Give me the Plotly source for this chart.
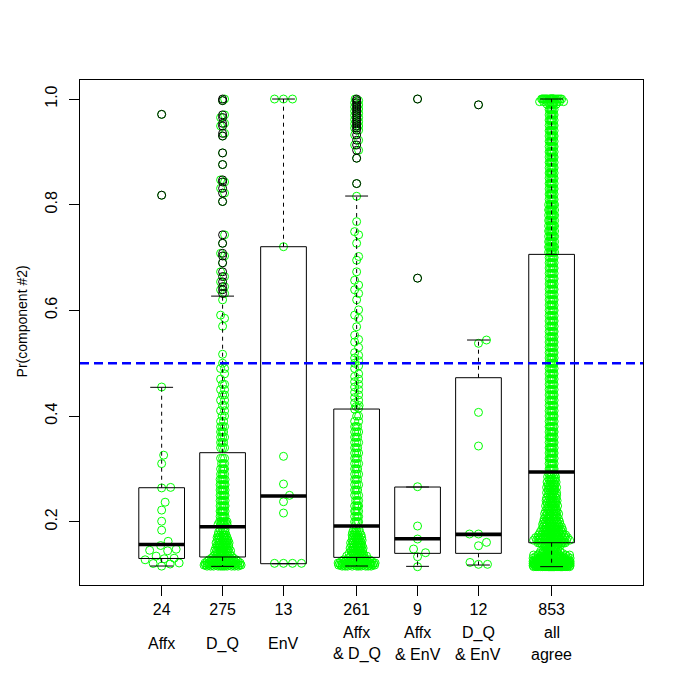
import numpy as np
import plotly.graph_objects as go

# ---------------- data ----------------
COUNT_LABELS = ["24", "275", "13", "261", "9", "12", "853"]
NAME_LINES = [["Affx"], ["D_Q"], ["EnV"], ["Affx", "& D_Q"],
              ["Affx", "& EnV"], ["D_Q", "& EnV"], ["all", "agree"]]
POSITIONS = [1.0, 2.0, 3.0, 4.2, 5.2, 6.2, 7.4]

BOX_Q1 = [0.1305, 0.1333, 0.1206, 0.1326, 0.1402, 0.1402, 0.1603]
BOX_MED = [0.1570, 0.1906, 0.2487, 0.1919, 0.1679, 0.1762, 0.2941]
BOX_Q3 = [0.2644, 0.3307, 0.7205, 0.4133, 0.2657, 0.4726, 0.7060]
WHISK_LO = [0.1162, 0.1156, 0.1206, 0.1162, 0.1156, 0.1181, 0.1150]
WHISK_HI = [0.4544, 0.6270, 1.0000, 0.8164, 0.2657, 0.5439, 1.0000]

Y_TICKS = [0.2, 0.4, 0.6, 0.8, 1.0]
Y_TICK_LABELS = ["0.2", "0.4", "0.6", "0.8", "1.0"]
THRESHOLD = 0.5
Y_TITLE = "Pr(component #2)"

# outliers (black circles)
OUT_AFFX = [0.971, 0.818]
OUT_DQ = [1.0, 0.997, 0.970, 0.965, 0.954, 0.949, 0.935, 0.930, 0.898, 0.876,
          0.847, 0.843, 0.831, 0.822, 0.806, 0.743, 0.727, 0.708, 0.703, 0.690,
          0.673, 0.664, 0.654, 0.645, 0.639, 0.632]
OUT_ENV = []
OUT_AFFX_DQ = [1.0, 0.997, 0.993, 0.989, 0.985, 0.981, 0.977, 0.973, 0.969, 0.965,
               0.961, 0.957, 0.953, 0.949, 0.945, 0.941, 0.932, 0.922, 0.913, 0.903,
               0.888, 0.840]
OUT_AFFX_ENV = [1.0, 0.661]
OUT_DQ_ENV = [0.989]
OUT_ALL = []

# non-outlying points, small groups
PTS_AFFX = [0.455, 0.326, 0.310, 0.265, 0.264, 0.237, 0.222, 0.201, 0.184, 0.163,
            0.155, 0.148, 0.146, 0.145, 0.135, 0.131, 0.130, 0.128, 0.122, 0.121,
            0.120, 0.116]
PTS_ENV = [1.0, 1.0, 1.0, 0.7205, 0.3238, 0.2714, 0.250, 0.2379, 0.2165,
           0.1213, 0.1213, 0.1213, 0.1213]
PTS_AFFX_ENV = [0.2663, 0.1919, 0.1673, 0.1484, 0.1414, 0.1338, 0.1149]
PTS_DQ_ENV = [0.5439, 0.5377, 0.407, 0.3433, 0.1768, 0.1768, 0.161, 0.1546,
              0.123, 0.1194, 0.1194]

# non-outlying points, large groups: value levels and number of points at each
DQ_LEVELS = [0.116, 0.118, 0.120, 0.122, 0.125, 0.128, 0.131,
             0.135, 0.140, 0.145, 0.150, 0.155, 0.160, 0.165, 0.170, 0.175, 0.180, 0.185,
             0.195, 0.200, 0.210, 0.220, 0.230, 0.240, 0.250, 0.260, 0.270, 0.280, 0.290,
             0.300, 0.310, 0.320,
             0.340, 0.350, 0.360, 0.370, 0.380, 0.390, 0.400, 0.410, 0.420, 0.430, 0.440,
             0.450, 0.460, 0.470, 0.480, 0.490, 0.500, 0.517, 0.570, 0.585, 0.591, 0.620]
DQ_COUNTS = [11, 12, 12, 10, 9, 8, 8,
             8, 8, 8, 8, 7, 7, 6, 6, 5, 3, 3,
             7, 6, 6, 6, 5, 5, 5, 5, 5, 5, 4,
             4, 3, 3,
             3, 3, 3, 3, 3, 2, 2, 2, 2, 2, 2,
             2, 2, 1, 1, 2, 1, 1, 1, 1, 1, 1]

AFFX_DQ_LEVELS = [0.116, 0.118, 0.120, 0.122, 0.125, 0.128, 0.131,
                  0.135, 0.140, 0.145, 0.150, 0.155, 0.160, 0.165, 0.170, 0.175, 0.180, 0.185,
                  0.200, 0.210, 0.220, 0.230, 0.240, 0.250, 0.260, 0.270, 0.280, 0.290,
                  0.300, 0.310, 0.320, 0.330, 0.340, 0.350, 0.360, 0.370, 0.380, 0.390, 0.400,
                  0.413, 0.415, 0.418, 0.420, 0.425, 0.430, 0.435, 0.440, 0.445, 0.450,
                  0.455, 0.460, 0.465, 0.470, 0.475, 0.480, 0.490, 0.495, 0.500, 0.505,
                  0.510, 0.515, 0.520, 0.530, 0.540, 0.545, 0.553, 0.569, 0.585, 0.591,
                  0.601, 0.620, 0.632, 0.639, 0.648, 0.657, 0.673, 0.695, 0.702, 0.727,
                  0.743, 0.749, 0.768, 0.816]
AFFX_DQ_COUNTS = [10, 11, 11, 10, 9, 8, 6,
                  8, 8, 7, 7, 6, 6, 6, 5, 5, 4, 3,
                  4, 4, 4, 4, 3, 3, 3, 3, 3, 3,
                  3, 3, 3, 3, 3, 3, 3, 3, 3, 2, 2,
                  1, 1, 1, 1, 1, 1, 1, 1, 1, 1,
                  1, 1, 1, 1, 1, 1, 1, 1, 1, 1,
                  1, 1, 1, 1, 1, 1, 1, 1, 1, 1,
                  1, 1, 1, 1, 1, 1, 1, 1, 1, 1,
                  1, 1, 1, 1]

ALL_LEVELS = [0.115, 0.117, 0.119, 0.121, 0.123, 0.125, 0.128, 0.131, 0.134, 0.137,
              0.140, 0.144, 0.148, 0.152, 0.156,
              0.160, 0.165, 0.170, 0.175, 0.180, 0.185, 0.190, 0.195, 0.200, 0.205,
              0.210, 0.215, 0.220, 0.225, 0.230, 0.235, 0.240, 0.245, 0.250, 0.255,
              0.260, 0.265, 0.270, 0.275, 0.280, 0.285, 0.290,
              0.30, 0.31, 0.32, 0.33, 0.34, 0.35, 0.36, 0.37, 0.38, 0.39,
              0.40, 0.41, 0.42, 0.43, 0.44, 0.45, 0.46, 0.47, 0.48, 0.49,
              0.50, 0.51, 0.52, 0.53, 0.54, 0.55, 0.56, 0.57, 0.58, 0.59,
              0.60, 0.61, 0.62, 0.63, 0.64, 0.65, 0.66, 0.67, 0.68, 0.69, 0.70,
              0.71, 0.72, 0.73, 0.74, 0.75, 0.76, 0.77, 0.78, 0.79,
              0.80, 0.81, 0.82, 0.83, 0.84, 0.85, 0.86, 0.87, 0.88, 0.89,
              0.90, 0.91, 0.92, 0.93, 0.94, 0.95, 0.96, 0.97, 0.98, 0.99,
              0.995, 1.0]
ALL_COUNTS = [26, 26, 24, 22, 18, 16, 14, 13, 11, 10,
              9, 8, 6, 5, 5,
              18, 17, 16, 13, 12, 11, 10, 9, 8, 8,
              7, 7, 7, 6, 6, 6, 6, 5, 5, 5,
              5, 5, 5, 4, 4, 4, 4,
              6, 6, 6, 6, 6, 6, 6, 6, 5, 5,
              5, 5, 5, 5, 5, 5, 5, 5, 5, 5,
              5, 5, 5, 5, 5, 5, 5, 5, 5, 5,
              5, 5, 5, 5, 5, 5, 5, 5, 5, 5, 5,
              7, 7, 7, 7, 7, 7, 7, 7, 7,
              7, 6, 6, 6, 6, 6, 6, 6, 6, 6,
              6, 6, 6, 6, 6, 6, 6, 6, 6, 6,
              8, 22]

# ---------------- assemble groups ----------------
def expand(levels, counts):
    out = []
    for v, c in zip(levels, counts):
        out += [v] * c
    return out

OUTLIERS = [OUT_AFFX, OUT_DQ, OUT_ENV, OUT_AFFX_DQ, OUT_AFFX_ENV, OUT_DQ_ENV, OUT_ALL]
INLIERS = [PTS_AFFX, expand(DQ_LEVELS, DQ_COUNTS), PTS_ENV,
           expand(AFFX_DQ_LEVELS, AFFX_DQ_COUNTS), PTS_AFFX_ENV, PTS_DQ_ENV,
           expand(ALL_LEVELS, ALL_COUNTS)]

X_RANGE = [-0.34, 8.90]
Y_RANGE = [0.0803, 1.036]
PLOT_W, PLOT_H = 563, 505
XPX = PLOT_W / (X_RANGE[1] - X_RANGE[0])
YPX = PLOT_H / (Y_RANGE[1] - Y_RANGE[0])


def swarm(vals, dense, spacing=8.6):
    """Deterministic beeswarm layout (pixel space), with a corral for dense groups."""
    v = np.sort(np.asarray(vals, float))
    y = v * YPX
    n = len(v)
    if dense:
        win = np.array([(np.abs(y - yi) <= 4.0).sum() for yi in y]) / 8.0
        cap = np.clip(1.5 + 1.5 * win ** 1.3, 2.0, 18.5)
    else:
        cap = np.full(n, 18.0)
    xs = np.zeros(n)
    for i in range(n):
        m = np.abs(y[:i] - y[i]) < spacing
        if not m.any():
            continue
        nx = xs[:i][m]
        ny = y[:i][m]
        k = max(1, int(round(cap[i] * 2)))
        steps = np.arange(1, k + 1, dtype=float) * 0.5
        cands = np.concatenate([[0.0], np.column_stack([steps, -steps]).ravel()])
        d = np.sqrt((cands[:, None] - nx[None, :]) ** 2 +
                    (y[i] - ny[None, :]) ** 2).min(axis=1)
        ok = np.nonzero(d >= spacing)[0]
        xs[i] = cands[ok[0]] if ok.size else cands[np.argmax(d)]
    return v, xs / XPX


fig = go.Figure()

# green points (all observations)
gx, gy = [], []
for pos, inl, outl in zip(POSITIONS, INLIERS, OUTLIERS):
    allv = list(inl) + list(outl)
    v, off = swarm(allv, dense=len(allv) > 100)
    gx += list(pos + off)
    gy += list(v)
fig.add_trace(go.Scatter(
    x=gx, y=gy, mode="markers", hoverinfo="skip",
    marker=dict(symbol="circle-open", size=8, color="#00FF00",
                line=dict(width=1, color="#00FF00"))))

# boxes
HW = 0.375
SW = HW / 2
bx, by, mx, my, wx, wy, sx, sy = [], [], [], [], [], [], [], []
for p, q1, md, q3, lo, hi in zip(POSITIONS, BOX_Q1, BOX_MED, BOX_Q3, WHISK_LO, WHISK_HI):
    bx += [p - HW, p + HW, p + HW, p - HW, p - HW, None]
    by += [q1, q1, q3, q3, q1, None]
    mx += [p - HW, p + HW, None]
    my += [md, md, None]
    wx += [p, p, None, p, p, None]
    wy += [q3, hi, None, q1, lo, None]
    sx += [p - SW, p + SW, None, p - SW, p + SW, None]
    sy += [hi, hi, None, lo, lo, None]

fig.add_trace(go.Scatter(x=wx, y=wy, mode="lines", hoverinfo="skip",
                         line=dict(color="black", width=1, dash="4px,4px")))
fig.add_trace(go.Scatter(x=sx, y=sy, mode="lines", hoverinfo="skip",
                         line=dict(color="black", width=1)))
fig.add_trace(go.Scatter(x=bx, y=by, mode="lines", hoverinfo="skip",
                         line=dict(color="black", width=1)))
fig.add_trace(go.Scatter(x=mx, y=my, mode="lines", hoverinfo="skip",
                         line=dict(color="black", width=3.6)))

# outliers
ox, oy = [], []
for pos, outl in zip(POSITIONS, OUTLIERS):
    ox += [pos] * len(outl)
    oy += list(outl)
fig.add_trace(go.Scatter(
    x=ox, y=oy, mode="markers", hoverinfo="skip",
    marker=dict(symbol="circle-open", size=8, color="black",
                line=dict(width=1, color="black"))))

# threshold line
fig.add_shape(type="line", xref="paper", x0=0, x1=1, yref="y", y0=THRESHOLD, y1=THRESHOLD,
              line=dict(color="#0000FF", width=2.5, dash="9px,5px"), layer="above")

FONT = "Liberation Sans, Arial, Helvetica, sans-serif"
FS = 16

# group names under the counts
for pos, lines in zip(POSITIONS, NAME_LINES):
    if len(lines) == 1:
        shifts = [-58.6]
    else:
        shifts = [-47.8, -69.3]
    for txt, sh in zip(lines, shifts):
        fig.add_annotation(x=pos, xref="x", y=0, yref="paper", yshift=sh,
                           text=txt, showarrow=False, yanchor="middle",
                           font=dict(family=FONT, size=FS, color="black"))

fig.add_annotation(x=0, xref="paper", xshift=-58, y=0.522, yref="paper",
                   text=Y_TITLE, textangle=-90, showarrow=False,
                   xanchor="center", yanchor="middle",
                   font=dict(family=FONT, size=14, color="black"))

# the page body has an 8px margin, so the figure is offset by 8px
fig.update_layout(
    width=665, height=669, autosize=False,
    margin=dict(l=72, r=30, t=72, b=92),
    paper_bgcolor="white", plot_bgcolor="white",
    showlegend=False,
    font=dict(family=FONT, size=FS, color="black"),
    xaxis=dict(range=X_RANGE, tickvals=POSITIONS, ticktext=COUNT_LABELS,
               ticks="outside", ticklen=10, tickwidth=1, tickcolor="black",
               showline=True, linecolor="black", linewidth=1, mirror=True,
               showgrid=False, zeroline=False, fixedrange=True,
               tickfont=dict(family=FONT, size=FS, color="black")),
    yaxis=dict(range=Y_RANGE, tickvals=Y_TICKS, ticktext=Y_TICK_LABELS,
               ticks="outside", ticklen=10, tickwidth=1, tickcolor="black",
               tickangle=-90, ticklabelstandoff=6,
               showline=True, linecolor="black", linewidth=1, mirror=True,
               showgrid=False, zeroline=False, fixedrange=True,
               tickfont=dict(family=FONT, size=FS, color="black")),
)

fig.write_html("out.html")
